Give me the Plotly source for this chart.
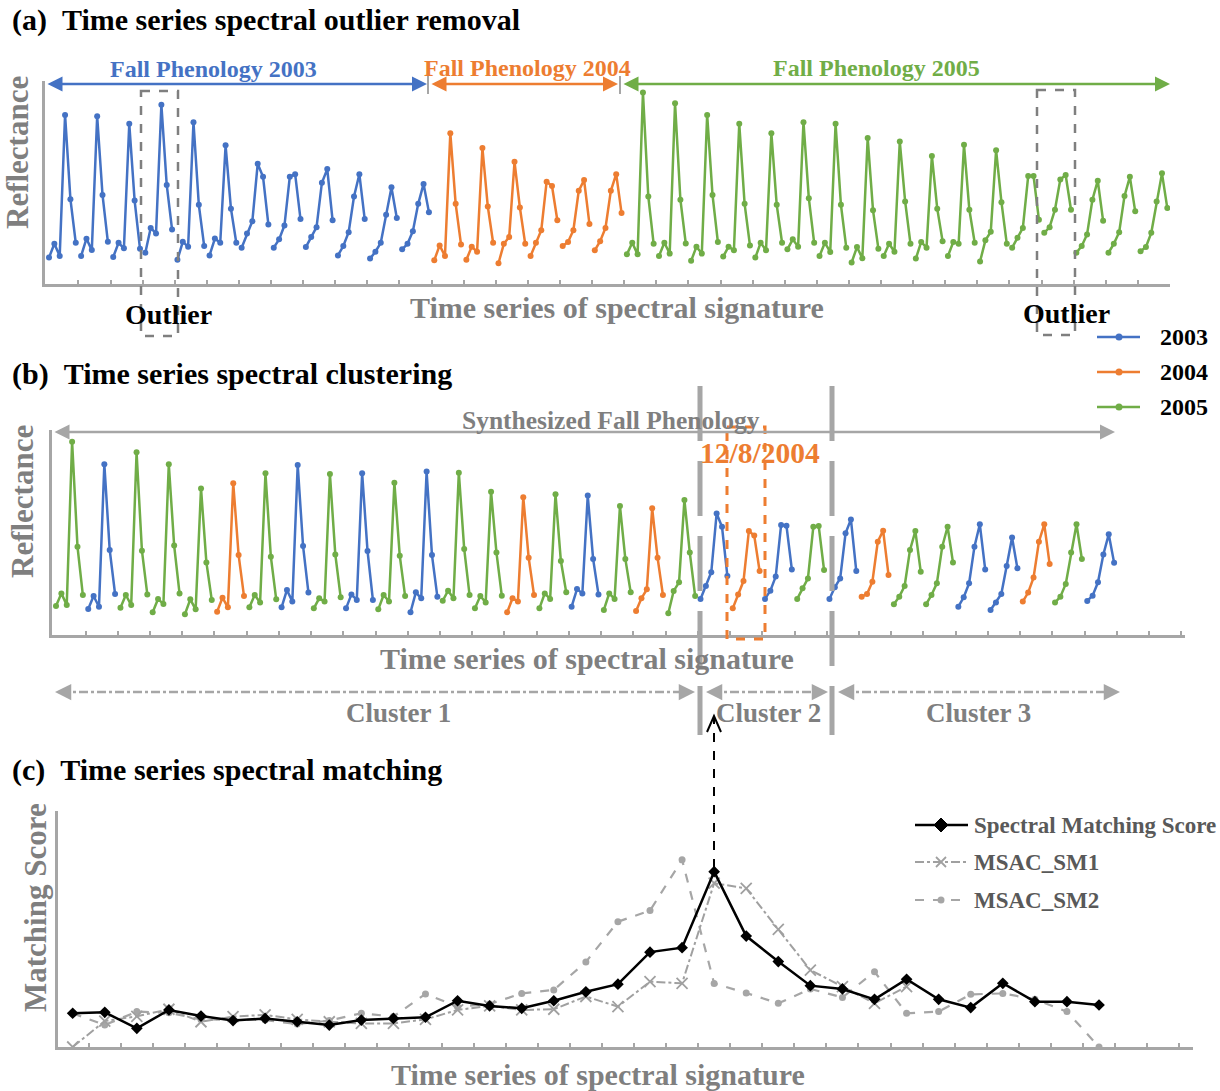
import plotly.graph_objects as go

W, H = 1220, 1091
BLUE, ORANGE, GREEN = "#4472C4", "#ED7D31", "#70AD47"
AXIS_GRAY = "#A6A6A6"
TEXT_GRAY = "#7F7F7F"
FONT = "Liberation Serif"

# ---------------- Panel (a): original time series (6 obs per signature) ----------------
refl_2003 = [
    [13.0, 19.8, 13.8, 83.3, 41.8, 20.3],
    [13.8, 22.3, 16.7, 82.6, 43.9, 20.8],
    [13.3, 20.3, 17.6, 78.9, 41.1, 17.4],
    [15.4, 27.6, 24.9, 88.3, 48.8, 26.8],
    [11.9, 20.8, 18.4, 79.7, 39.0, 18.7],
    [14.1, 22.4, 20.3, 68.3, 37.1, 20.3],
    [17.9, 24.9, 30.9, 59.2, 52.8, 29.3],
    [17.9, 22.0, 28.8, 52.8, 54.1, 32.0],
    [18.2, 23.1, 28.0, 49.9, 56.6, 31.4],
    [14.1, 18.7, 25.5, 43.1, 54.1, 32.0],
    [12.5, 15.9, 20.3, 34.1, 47.6, 32.5],
    [17.1, 19.8, 26.0, 39.5, 49.3, 35.4],
]
refl_2004 = [
    [11.7, 19.0, 13.8, 74.3, 39.5, 19.5],
    [11.9, 18.4, 15.9, 67.0, 38.2, 20.3],
    [10.2, 19.8, 23.1, 60.2, 37.7, 19.8],
    [13.8, 20.3, 26.5, 50.4, 48.3, 31.4],
    [18.7, 20.7, 26.5, 45.9, 51.2, 29.6],
    [16.6, 21.1, 27.6, 45.9, 54.1, 35.0],
]
refl_2005 = [
    [14.6, 20.3, 14.6, 94.3, 43.1, 19.8],
    [13.8, 20.3, 15.0, 89.1, 41.5, 20.0],
    [11.4, 18.4, 15.0, 83.3, 43.9, 20.7],
    [13.5, 18.4, 16.6, 78.9, 39.5, 19.0],
    [13.0, 20.3, 16.6, 74.3, 39.0, 20.3],
    [17.1, 22.0, 18.4, 79.7, 42.3, 20.3],
    [13.8, 20.3, 15.8, 78.9, 39.0, 17.9],
    [10.6, 18.2, 12.7, 71.9, 36.3, 17.4],
    [13.8, 19.8, 15.9, 70.2, 40.7, 19.8],
    [12.5, 20.7, 17.9, 63.1, 37.1, 21.1],
    [13.8, 20.7, 19.8, 68.6, 36.6, 20.3],
    [11.1, 21.5, 25.7, 65.9, 40.3, 19.8],
    [17.9, 22.8, 27.6, 53.2, 53.2, 31.7],
    [25.2, 28.0, 36.6, 51.5, 53.7, 36.6],
    [15.4, 18.7, 24.4, 41.5, 50.9, 31.1],
    [15.4, 19.8, 25.5, 43.4, 52.8, 35.8],
    [16.1, 18.2, 25.2, 40.7, 54.5, 37.4],
]
years_a = ["2003", "2004", "2005"]

# ---------------- Panel (b): synthesized (sorted) fall phenology ----------------
synth_year = ["2005", "2003", "2005", "2005", "2005", "2004", "2005", "2003", "2005", "2003",
              "2005", "2003", "2005", "2005", "2004", "2005", "2003", "2005", "2004", "2005",
              "2003", "2004", "2003", "2005", "2003", "2004", "2005", "2005", "2003", "2003",
              "2004", "2005", "2003"]
refl_synth = [
    [14.1, 20.3, 14.6, 94.3, 43.1, 19.5],
    [12.7, 19.0, 13.8, 83.3, 41.5, 20.0],
    [13.3, 19.5, 14.6, 89.1, 41.1, 19.8],
    [11.1, 17.6, 15.1, 83.3, 43.6, 20.3],
    [10.1, 17.4, 12.5, 71.5, 35.4, 17.1],
    [11.4, 18.2, 13.5, 74.0, 39.0, 19.0],
    [13.5, 19.5, 15.9, 78.9, 38.2, 17.4],
    [13.5, 22.0, 16.3, 82.9, 43.4, 20.7],
    [13.0, 17.9, 16.3, 78.5, 39.3, 18.4],
    [13.0, 19.8, 17.1, 78.9, 41.0, 17.1],
    [12.5, 19.5, 16.3, 74.3, 38.7, 19.0],
    [11.1, 20.8, 17.9, 79.7, 39.0, 18.7],
    [16.7, 21.6, 17.9, 79.2, 42.0, 19.5],
    [13.0, 19.0, 15.9, 69.9, 40.3, 19.2],
    [11.1, 17.9, 16.3, 67.2, 37.7, 19.5],
    [13.0, 20.3, 17.6, 68.6, 36.1, 20.8],
    [13.8, 22.4, 20.3, 68.0, 37.1, 19.8],
    [12.2, 20.3, 17.6, 62.9, 37.1, 20.8],
    [11.7, 17.9, 22.3, 61.8, 37.7, 19.5],
    [10.6, 21.5, 25.7, 65.9, 40.2, 19.0],
    [17.6, 23.9, 30.6, 59.3, 52.8, 28.8],
    [13.0, 19.8, 26.3, 50.7, 48.5, 31.2],
    [17.6, 21.6, 28.5, 53.7, 53.3, 32.0],
    [17.6, 22.8, 27.6, 52.8, 53.2, 31.7],
    [17.6, 23.3, 27.6, 49.6, 56.4, 31.2],
    [18.7, 20.0, 26.0, 45.5, 50.9, 29.3],
    [15.0, 18.7, 23.9, 41.5, 50.7, 30.9],
    [15.0, 19.5, 25.2, 43.1, 52.8, 35.4],
    [13.8, 18.4, 25.2, 43.1, 54.0, 32.0],
    [12.2, 15.9, 20.0, 33.7, 47.6, 32.5],
    [16.3, 20.7, 28.0, 45.5, 54.0, 34.6],
    [15.8, 18.7, 24.9, 40.3, 54.0, 37.1],
    [16.6, 19.2, 25.7, 39.3, 49.1, 35.3],
]

# ---------------- Panel (c): matching scores per signature ----------------
score_sms = [14.3, 14.7, 7.9, 15.7, 13.1, 11.2, 12.1, 10.7, 9.3, 11.4, 12.1, 12.6, 19.6,
             17.4, 16.4, 19.6, 23.4, 26.6, 40.2, 42.1, 74.3, 47.0, 36.2, 26.0, 24.6, 20.2,
             28.7, 20.2, 16.7, 27.0, 19.2, 19.2, 17.8]
score_sm1 = [0.0, 11.0, 13.0, 16.0, 10.7, 12.9, 13.6, 11.7, 10.7, 10.0, 10.0, 11.7, 15.7,
             17.4, 15.7, 16.0, 21.4, 17.1, 27.7, 27.0, 69.4, 67.2, 49.8, 32.6, 25.6, 18.5,
             25.6, None, None, None, None, None, None]
score_sm2 = [14.3, 9.3, 15.0, 14.5, 11.7, 11.7, 11.4, 9.7, 11.2, 14.3, 12.9, 22.5, 17.1,
             18.2, 22.7, 24.2, 36.0, 53.1, 57.8, 79.3, 26.9, 22.9, 18.5, 24.6, 21.0, 31.9,
             14.3, 15.0, 22.3, 22.7, 20.2, 15.0, 0.0]

NOBS = 6
N_SLOTS = 35
year_color = {"2003": BLUE, "2004": ORANGE, "2005": GREEN}


def px(x):
    return x / W


def py(y):
    return 1 - y / H


def series_xy(groups, slots):
    xs, ys = [], []
    for slot, vals in zip(slots, groups):
        xs += [slot * NOBS + j for j in range(NOBS)] + [None]
        ys += list(vals) + [None]
    return xs, ys


fig = go.Figure()

# panel (a)
start = 0
for yr, groups in zip(years_a, [refl_2003, refl_2004, refl_2005]):
    slots = list(range(start, start + len(groups)))
    start += len(groups)
    xs, ys = series_xy(groups, slots)
    fig.add_trace(go.Scatter(x=xs, y=ys, mode="lines+markers", xaxis="x", yaxis="y",
                             line=dict(color=year_color[yr], width=2.5),
                             marker=dict(size=6, color=year_color[yr]),
                             name=yr, showlegend=False, connectgaps=False))

# panel (b)
for yr in years_a:
    slots = [i for i, y in enumerate(synth_year) if y == yr]
    groups = [refl_synth[i] for i in slots]
    xs, ys = series_xy(groups, slots)
    fig.add_trace(go.Scatter(x=xs, y=ys, mode="lines+markers", xaxis="x2", yaxis="y2",
                             line=dict(color=year_color[yr], width=2.5),
                             marker=dict(size=6, color=year_color[yr]),
                             name=yr, showlegend=False, connectgaps=False))

# panel (c)
xc = list(range(len(score_sms)))
fig.add_trace(go.Scatter(x=xc, y=score_sm2, mode="lines+markers", xaxis="x3", yaxis="y3",
                         line=dict(color="#A6A6A6", width=2.2, dash="dash"),
                         marker=dict(size=7, color="#A6A6A6"), name="MSAC_SM2",
                         showlegend=False))
fig.add_trace(go.Scatter(x=xc, y=score_sm1, mode="lines+markers", xaxis="x3", yaxis="y3",
                         line=dict(color="#A0A0A0", width=2.0, dash="dashdot"),
                         marker=dict(size=11, symbol="x-thin-open",
                                     line=dict(color="#A0A0A0", width=1.8)),
                         name="MSAC_SM1", showlegend=False, connectgaps=False))
fig.add_trace(go.Scatter(x=xc, y=score_sms, mode="lines+markers", xaxis="x3", yaxis="y3",
                         line=dict(color="black", width=2.5),
                         marker=dict(size=9, symbol="diamond", color="black"),
                         name="Spectral Matching Score", showlegend=False))


def xaxis_cfg(x0, x1, rng, tickvals):
    return dict(domain=[px(x0), px(x1)], range=rng, showgrid=False, zeroline=False,
                showline=True, linecolor=AXIS_GRAY, linewidth=3, ticks="inside",
                ticklen=4, tickwidth=2, tickcolor=AXIS_GRAY, tickvals=tickvals,
                showticklabels=False, fixedrange=True)


def yaxis_cfg(y_bottom, y_top, anchor):
    return dict(domain=[py(y_bottom), py(y_top)], range=[0, 100], showgrid=False,
                zeroline=False, showline=True, linecolor=AXIS_GRAY, linewidth=3,
                ticks="", showticklabels=False, anchor=anchor, fixedrange=True)


ticks_ab = [NOBS * k - 0.5 for k in range(1, N_SLOTS + 1)]
ticks_c = [k + 0.5 for k in range(N_SLOTS)]

fig.update_layout(
    width=W, height=H, margin=dict(l=0, r=0, t=0, b=0, pad=0), autosize=False,
    paper_bgcolor="white", plot_bgcolor="white", showlegend=False,
    xaxis=dict(xaxis_cfg(45, 1170, [-0.75, 209.5], ticks_ab), anchor="y"),
    yaxis=yaxis_cfg(284, 81, "x"),
    xaxis2=dict(xaxis_cfg(52, 1185, [-0.745, 210.2], ticks_ab), anchor="y2"),
    yaxis2=yaxis_cfg(635, 430, "x2"),
    xaxis3=dict(xaxis_cfg(58, 1193, [-0.458, 34.93], ticks_c), anchor="y3"),
    yaxis3=yaxis_cfg(1047, 811, "x3"),
)

ann = []
shapes = []


def text(t, x, y, size, color, xanchor="center", angle=0):
    ann.append(dict(text=f"<b>{t}</b>", x=px(x), y=py(y), xref="paper", yref="paper",
                    showarrow=False, xanchor=xanchor, yanchor="middle", textangle=angle,
                    font=dict(family=FONT, size=size, color=color)))


def darrow(x1, x2, y, color, width=2.5, both=True, size=1.2):
    ann.append(dict(text="", x=px(x2), y=py(y), xref="paper", yref="paper",
                    ax=x1 - x2, ay=0, axref="pixel", ayref="pixel", showarrow=True,
                    arrowside="end+start" if both else "end", arrowhead=2,
                    arrowsize=size, arrowwidth=width, arrowcolor=color,
                    standoff=0, startstandoff=0))


def line(x0, y0, x1, y1, color, width, dash="solid"):
    shapes.append(dict(type="line", xref="paper", yref="paper", x0=px(x0), y0=py(y0),
                       x1=px(x1), y1=py(y1), line=dict(color=color, width=width, dash=dash)))


def rect(x0, y0, x1, y1, color, width, dash):
    shapes.append(dict(type="rect", xref="paper", yref="paper", x0=px(x0), y0=py(y0),
                       x1=px(x1), y1=py(y1), line=dict(color=color, width=width, dash=dash)))


def circle(cx, cy, r, color):
    shapes.append(dict(type="circle", xref="paper", yref="paper", x0=px(cx - r),
                       y0=py(cy + r), x1=px(cx + r), y1=py(cy - r),
                       fillcolor=color, line=dict(color=color, width=0)))


def path(pts, color, width=2, fill=None, close=False):
    d = "M " + " L ".join(f"{px(a):.6f},{py(b):.6f}" for a, b in pts) + (" Z" if close else "")
    shapes.append(dict(type="path", xref="paper", yref="paper", path=d,
                       line=dict(color=color, width=width),
                       fillcolor=fill if fill else "rgba(0,0,0,0)"))


# ---- titles ----
text("(a)&nbsp;&nbsp;Time series spectral outlier removal", 10, 20, 30, "black", "left")
text("(b)&nbsp;&nbsp;Time series spectral clustering", 10, 374, 30, "black", "left")
text("(c)&nbsp;&nbsp;Time series spectral matching", 10, 770, 30, "black", "left")

# ---- panel (a) decorations ----
text("Fall Phenology 2003", 213, 69, 24, BLUE)
text("Fall Phenology 2004", 527, 68, 24, ORANGE)
text("Fall Phenology 2005", 876, 68, 24, GREEN)
darrow(46, 427, 84, BLUE)
darrow(430, 618, 84, ORANGE)
darrow(622, 1170, 84, GREEN)
line(428, 76, 428, 94, AXIS_GRAY, 2)
line(620, 76, 620, 94, AXIS_GRAY, 2)
text("Reflectance", 18, 153, 31, TEXT_GRAY, angle=-90)
text("Time series of spectral signature", 617, 307, 30, TEXT_GRAY)
rect(141, 91, 178, 336, "#7F7F7F", 2.5, "dash")
rect(1037, 90, 1075, 335, "#7F7F7F", 2.5, "dash")
text("Outlier", 168, 315, 28, "black")
text("Outlier", 1066, 313, 28, "black")

# ---- year legend ----
for i, yr in enumerate(years_a):
    yy = 337 + 35 * i
    line(1097, yy, 1140, yy, year_color[yr], 2.5)
    circle(1119, yy, 3.5, year_color[yr])
    text(yr, 1158, yy, 24, "black", "left")

# ---- panel (b) decorations ----
darrow(53, 1115, 432, AXIS_GRAY, 2.5)
text("Synthesized Fall Phenology", 611, 420, 25.5, TEXT_GRAY)
text("Reflectance", 22, 502, 31, TEXT_GRAY, angle=-90)
text("Time series of spectral signature", 587, 658, 30, TEXT_GRAY)
text("12/8/2004", 760, 453, 29.5, ORANGE)
rect(727, 427, 765, 639, ORANGE, 3, "dash")
line(700, 386, 700, 735, AXIS_GRAY, 5, "55px,20px")
line(832, 386, 832, 735, AXIS_GRAY, 5, "55px,20px")

# cluster arrows (dash-dot)
for (xa, xb, lbl, xl) in [(55, 695, "Cluster 1", 398), (706, 828, "Cluster 2", 768),
                          (838, 1120, "Cluster 3", 978)]:
    line(xa + 6, 692, xb - 6, 692, AXIS_GRAY, 2.5, "dashdot")
    darrow(xa + 14, xa, 692, AXIS_GRAY, 2.5, both=False, size=1.3)
    darrow(xb - 14, xb, 692, AXIS_GRAY, 2.5, both=False, size=1.3)
    text(lbl, xl, 713, 27, TEXT_GRAY)

# black dashed pointer from peak to cluster 2
line(714, 868, 714, 718, "black", 2, "dash")
path([(707, 732), (714, 716), (721, 732)], "black", 2)

# ---- panel (c) decorations ----
text("Matching Score", 35, 908, 31, TEXT_GRAY, angle=-90)
text("Time series of spectral signature", 598, 1074, 30, TEXT_GRAY)

# legend (c)
line(915, 825, 968, 825, "black", 2.5)
path([(941, 818), (948, 825), (941, 832), (934, 825)], "black", 1, fill="black", close=True)
text("Spectral Matching Score", 972, 825, 23, "#595959", "left")
line(915, 862, 968, 862, "#A0A0A0", 2, "dashdot")
path([(936, 857), (946, 867)], "#A0A0A0", 1.8)
path([(936, 867), (946, 857)], "#A0A0A0", 1.8)
text("MSAC_SM1", 972, 862, 23, "#595959", "left")
line(915, 900, 968, 900, "#A6A6A6", 2, "dash")
circle(941, 900, 3.5, "#A6A6A6")
text("MSAC_SM2", 972, 900, 23, "#595959", "left")

fig.update_layout(annotations=ann, shapes=shapes)
fig.write_html("out.html")
